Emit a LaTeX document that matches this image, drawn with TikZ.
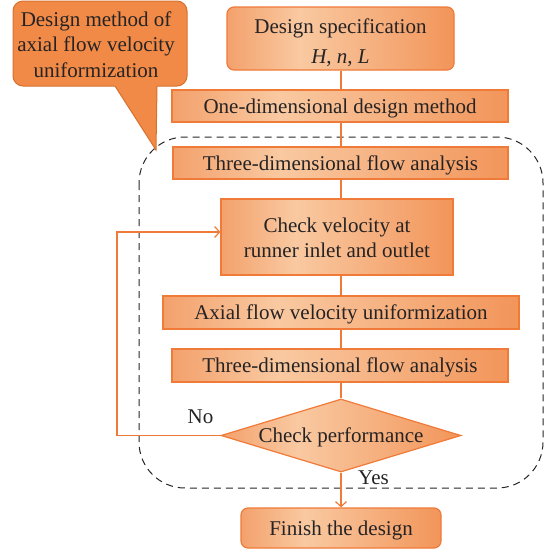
\documentclass[tikz,border=0pt]{standalone}
\usepackage{fontspec}
\setmainfont{Liberation Serif}
\usetikzlibrary{shapes.geometric,arrows.meta}
\definecolor{bL}{HTML}{F3A16C}
\definecolor{bM}{HTML}{F9C9A1}
\definecolor{bR}{HTML}{F2955A}
\definecolor{edge}{HTML}{F07A38}
\definecolor{cfill}{HTML}{F18A47}
\definecolor{cedge}{HTML}{D8702F}
\definecolor{txt}{HTML}{262324}
\pgfdeclarehorizontalshading{boxshade}{100bp}{color(0bp)=(bL); color(25bp)=(bL); color(41bp)=(bM); color(75bp)=(bR); color(100bp)=(bR)}
\newcommand{\lowstack}[2]{\raisebox{-#1}[0pt][0pt]{\begin{tabular}[b]{@{}c@{}}#2\end{tabular}}}
\tikzset{
  box/.style={draw=edge, line width=1.2pt, shading=boxshade, inner sep=0pt,
    font=\fontsize{21}{26}\selectfont, text=txt, align=center,
    text height=14pt, text depth=0pt},
  twoline/.style={text height=0pt, text depth=0pt},
  flow/.style={draw=edge, line width=1.2pt},
  tip/.style={-{Straight Barb[length=5pt,width=11pt,line width=1.2pt]}},
  lbl/.style={font=\fontsize{21}{25.5}\selectfont, text=txt, inner sep=0pt, anchor=base},
  dashbox/.style={draw=black!85, line width=1pt, dash pattern=on 7pt off 5pt, rounded corners=46pt},
  calloutbox/.style={fill=cfill, draw=cedge, line width=1pt, rounded corners=10pt, inner sep=0pt}
}
\begin{document}
\begin{tikzpicture}[x=1pt,y=-1pt]
\useasboundingbox (0,0) rectangle (545,555);
% dashed frame
\draw[dashbox] (139,137) rectangle (543,488);
% callout
\node[calloutbox, minimum width=174, minimum height=85] (callout) at (100,43.5) {};
\fill[cfill] (114,84) -- (158,84) -- (157,86) -- (156,150) -- (115,86) -- cycle;
\draw[cedge, line width=1pt, line join=miter] (115,86) -- (156,150) -- (157,86);
\node[lbl] (calloutText) at (96,77) {\begin{tabular}[b]{@{}c@{}}Design method of\\axial flow velocity\\uniformization\end{tabular}};
% boxes
\node[box, twoline, rounded corners=7pt, minimum width=227, minimum height=63] (spec) at (340.5,38.5) {\lowstack{24.5pt}{Design specification\\[4pt]\textit{H}, \textit{n}, \textit{L}}};
\node[box, minimum width=336, minimum height=32] (one) at (340,106) {One-dimensional design method};
\node[box, minimum width=335, minimum height=32] (three1) at (340.5,163) {Three-dimensional flow analysis};
\node[box, twoline, minimum width=232, minimum height=76] (check) at (337,237) {\lowstack{20pt}{Check velocity at\\[-1pt]runner inlet and outlet}};
\node[box, minimum width=356, minimum height=33] (axial) at (341,312.5) {Axial flow velocity uniformization};
\node[box, minimum width=336, minimum height=33] (three2) at (340,365.5) {Three-dimensional flow analysis};
\node[box, diamond, shape aspect=3.3, minimum width=240, minimum height=73] (perf) at (341,435.5) {Check performance};
\node[box, rounded corners=7pt, minimum width=200, minimum height=40] (finish) at (341,528) {Finish the design};
% labels
\node[lbl] (no) at (200.5,423) {No};
\node[lbl] (yes) at (373.5,484) {Yes};
% connectors
\coordinate (ax) at (341,0);
\draw[flow] (spec.south -| ax) -- (one.north -| ax);
\draw[flow] (one.south -| ax) -- (three1.north -| ax);
\draw[flow] (three1.south -| ax) -- (check.north -| ax);
\draw[flow] (check.south -| ax) -- (axial.north -| ax);
\draw[flow] (axial.south -| ax) -- (three2.north -| ax);
\draw[flow] (three2.south -| ax) -- (perf.north);
\draw[flow, tip] (perf.south) -- (finish.north);
\coordinate (fb) at (117,232);
\draw[flow, tip] (perf.west) -| (fb) -- (fb -| check.west);
\end{tikzpicture}
\end{document}
